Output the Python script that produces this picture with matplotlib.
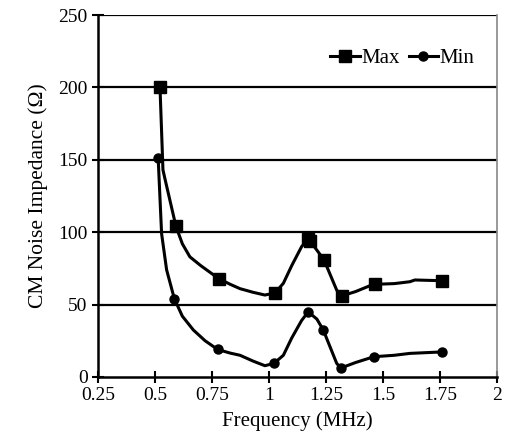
import matplotlib.pyplot as plt

plt.rcParams["font.family"] = ["Liberation Serif", "DejaVu Serif"]

# Max series: traced line points and which of them carry markers
max_freq = [0.522, 0.535, 0.545, 0.592, 0.62, 0.653, 0.70, 0.779, 0.83, 0.873,
            0.93, 0.982, 1.026, 1.063, 1.10, 1.143, 1.17, 1.18, 1.241, 1.297,
            1.319, 1.38, 1.45, 1.465, 1.55, 1.618, 1.64, 1.757]
max_imp = [200, 143, 136, 104, 92, 83, 77, 68, 64, 61,
           58.5, 56.6, 58, 64.7, 77, 90, 95, 94, 81, 60,
           56, 59, 63.5, 64, 64.5, 65.8, 67, 66.5]
max_marks = [0, 3, 7, 12, 16, 17, 18, 20, 23, 27]

# Min series
min_freq = [0.514, 0.529, 0.551, 0.585, 0.62, 0.668, 0.72, 0.775, 0.83, 0.873,
            0.93, 0.982, 1.022, 1.063, 1.10, 1.143, 1.172, 1.21, 1.238, 1.297,
            1.315, 1.38, 1.46, 1.55, 1.618, 1.757]
min_imp = [151, 99, 74, 54, 42, 32.5, 25, 19, 16.5, 15,
           11, 7.8, 9.4, 15, 27, 39, 45, 40, 32.5, 9.4,
           6.2, 10, 14, 15, 16.3, 17.3]
min_marks = [0, 3, 7, 12, 16, 18, 20, 22, 25]

x_ticks = [0.25, 0.5, 0.75, 1, 1.25, 1.5, 1.75, 2]
x_labels = ["0.25", "0.5", "0.75", "1", "1.25", "1.5", "1.75", "2"]
y_ticks = [0, 50, 100, 150, 200, 250]

fig = plt.figure(figsize=(5.09, 4.48), dpi=100)
ax = fig.add_axes([0.1925, 0.1585, 0.7839, 0.808])

for y in y_ticks[1:]:
    ax.axhline(y, color="black", linewidth=1.6, zorder=1)

ax.plot(max_freq, max_imp, color="black", linewidth=2.2, marker="s",
        markersize=9, markevery=max_marks, label="Max", zorder=3)
ax.plot(min_freq, min_imp, color="black", linewidth=2.2, marker="o",
        markersize=6.5, markevery=min_marks, label="Min", zorder=3)

ax.set_xlim(0.25, 2)
ax.set_ylim(0, 250)
ax.set_xticks(x_ticks)
ax.set_xticklabels(x_labels)
ax.set_yticks(y_ticks)
ax.tick_params(direction="inout", length=8, width=1.5, labelsize=14, color="black")

ax.spines["left"].set_linewidth(1.8)
ax.spines["bottom"].set_linewidth(1.8)
ax.spines["top"].set_visible(False)
ax.spines["right"].set_color("#888888")
ax.spines["right"].set_linewidth(1.2)

ax.set_xlabel("Frequency (MHz)", fontsize=15, labelpad=5)
ax.set_ylabel("CM Noise Impedance (Ω)", fontsize=15.5, labelpad=7)

ax.legend(loc="upper right", bbox_to_anchor=(0.965, 0.93), ncol=2, frameon=False,
          fontsize=15, handlelength=1.4, handletextpad=0.1, columnspacing=0.4,
          borderaxespad=0)

fig.savefig("out.png", dpi=100)
